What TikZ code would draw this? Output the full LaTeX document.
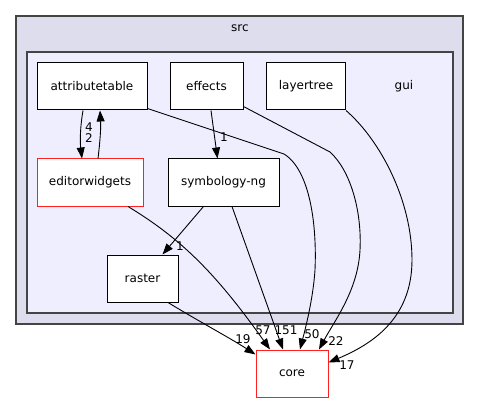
\documentclass[tikz,border=0pt]{standalone}
\usepackage{fontspec}
\setmainfont{DejaVu Sans}
\usetikzlibrary{arrows.meta}

\definecolor{srcfill}{HTML}{DDDDEE}
\definecolor{guifill}{HTML}{EEEEFF}
\definecolor{clusterline}{HTML}{444444}
\definecolor{redline}{HTML}{FF2020}

\begin{document}
\begin{tikzpicture}[x=1pt, y=-1pt,
  font=\fontsize{12}{14}\selectfont,
  dirbox/.style={rectangle, draw=black, fill=white, line width=1pt, minimum height=47pt, inner sep=0pt},
  redbox/.style={dirbox, draw=redline},
  dep/.style={-{Triangle[length=11pt,width=8pt]}, line width=0.9pt},
  lbl/.style={inner sep=0pt}]
\useasboundingbox (0,0) rectangle (480,404);
%%%%%%%%%%%%%%%%%%%
\draw[fill=srcfill, draw=clusterline, line width=1.3pt] (16,16) rectangle (463,324);
\draw[fill=guifill, draw=clusterline, line width=1.3pt] (27,52) rectangle (453,313);
\node[lbl] (srclabel) at (240,28) {src};
\node[lbl] (guilabel) at (404,86) {gui};

%%%%%%%%%%%%%%%%%%%
\node[dirbox, minimum width=110pt] (attributetable) at (92,86.5) {attributetable};
\node[dirbox, minimum width=73pt] (effects) at (206.5,86.5) {effects};
\node[dirbox, minimum width=79pt] (layertree) at (306,86.5) {layertree};
\node[redbox, minimum width=106pt] (editorwidgets) at (90,182.5) {editorwidgets};
\node[dirbox, minimum width=111pt] (symbologyng) at (223.5,182.5) {symbology-ng};
\node[dirbox, minimum width=71pt] (raster) at (142.5,278.5) {raster};
\node[redbox, minimum width=72pt] (core) at (292,373.5) {core};

%%%%%%%%%%%%%%%%%%%
\draw[dep] ([xshift=-9pt]attributetable.south) .. controls (80,128) and (80,142) .. ([xshift=-8pt]editorwidgets.north);
\draw[dep] ([xshift=8pt]editorwidgets.north) .. controls (100,142) and (101,128) .. ([xshift=8pt]attributetable.south);
\draw[dep] ([xshift=4.5pt]effects.south) -- ([xshift=-6pt]symbologyng.north);
\draw[dep] ([xshift=-20pt]symbologyng.south) -- ([xshift=20pt]raster.north);
\draw[dep] ([xshift=25.5pt]raster.south) .. controls (200,322) and (230,338) .. ([yshift=19pt]core.west);
\draw[dep] ([xshift=38pt]editorwidgets.south) .. controls (180,238) and (215,272) .. ([xshift=-22pt]core.north);
\draw[dep] ([xshift=8.5pt]symbologyng.south) -- ([xshift=-9pt]core.north);
\draw[dep] ([yshift=2pt]attributetable.south east) -- (284,154) .. controls (310,170) and (317,225) .. (315,270) .. controls (313,300) and (305,330) .. ([xshift=8pt]core.north);
\draw[dep] ([yshift=4pt]effects.south east) -- (330,152) .. controls (350,170) and (362,210) .. (360,250) .. controls (358,290) and (335,320) .. ([xshift=27pt]core.north);
\draw[dep] (layertree.south east) .. controls (380,140) and (412,200) .. (412,260) .. controls (412,320) and (370,345) .. ([yshift=11pt]core.east);

%%%%%%%%%%%%%%%%%%%
\node[lbl] (lbla) at (89,127) {4};
\node[lbl] (lblb) at (89,138) {2};
\node[lbl] (lblc) at (224,137) {1};
\node[lbl] (lbld) at (180,246) {1};
\node[lbl] (lble) at (243,339) {19};
\node[lbl] (lblf) at (263,330) {57};
\node[lbl] (lblg) at (286,330) {151};
\node[lbl] (lblh) at (312,334) {50};
\node[lbl] (lbli) at (336,341) {22};
\node[lbl] (lblj) at (347,365) {17};
\end{tikzpicture}
\end{document}
